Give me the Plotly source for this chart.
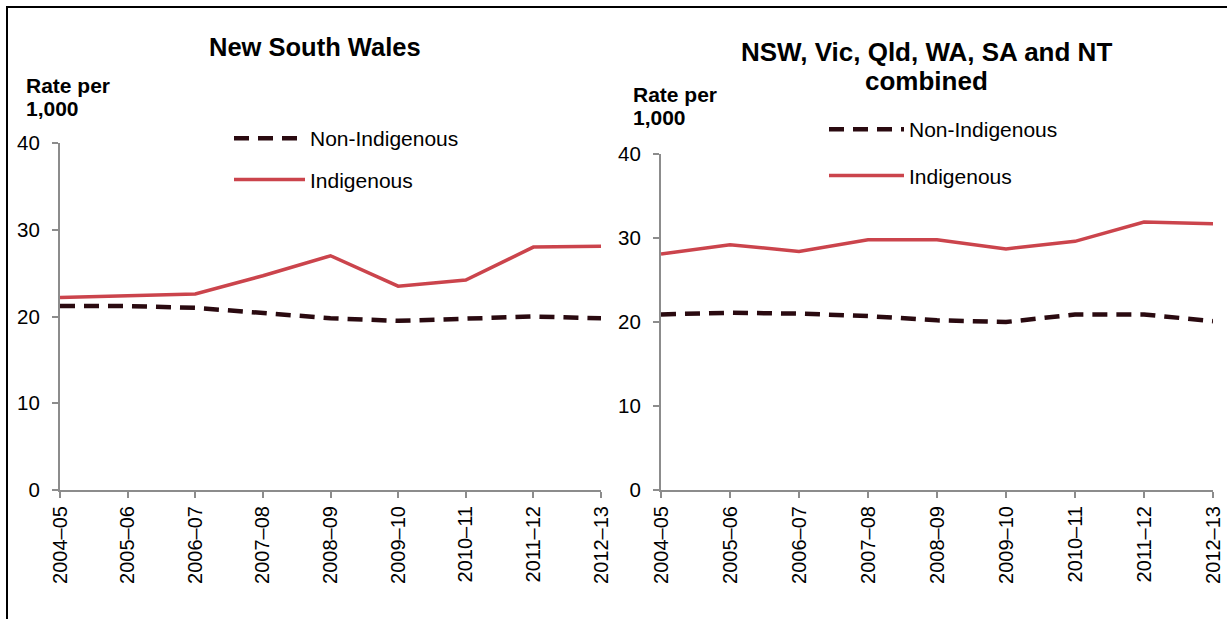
import plotly.graph_objects as go

years = ["2004–05", "2005–06", "2006–07", "2007–08", "2008–09",
         "2009–10", "2010–11", "2011–12", "2012–13"]

nsw_non_indigenous = [21.2, 21.2, 21.0, 20.4, 19.8, 19.5, 19.8, 20.0, 19.8]
nsw_indigenous = [22.2, 22.4, 22.6, 24.7, 27.0, 23.5, 24.2, 28.0, 28.1]

comb_non_indigenous = [20.9, 21.1, 21.0, 20.7, 20.2, 20.0, 20.9, 20.9, 20.1]
comb_indigenous = [28.1, 29.2, 28.4, 29.8, 29.8, 28.7, 29.6, 31.9, 31.7]

title_left = "New South Wales"
title_right = ["NSW, Vic, Qld, WA, SA and NT", "combined"]
ylabel = ["Rate per", "1,000"]

RED = "#CB444C"
DARK = "#2A0A10"
AXIS = "#8C8C8C"
FONT = "Liberation Sans, Arial, sans-serif"
W, H = 1227, 619

fig = go.Figure()

panels = [
    (nsw_non_indigenous, nsw_indigenous, "x", "y", "legend"),
    (comb_non_indigenous, comb_indigenous, "x2", "y2", "legend2"),
]
for i, (non, ind, xa, ya, lg) in enumerate(panels):
    fig.add_trace(go.Scatter(
        x=years, y=non, mode="lines", name="Non-Indigenous",
        line=dict(color=DARK, width=4.5, dash="15px,9px"),
        xaxis=xa, yaxis=ya, legend=lg, legendgroup=f"n{i}",
        hoverinfo="skip"))
    fig.add_trace(go.Scatter(
        x=years, y=ind, mode="lines", name="Indigenous",
        line=dict(color=RED, width=3.5),
        xaxis=xa, yaxis=ya, legend=lg, legendgroup=f"i{i}",
        hoverinfo="skip"))


def px_x(v):
    return v / W


def px_y(v):
    return 1 - v / H


xcommon = dict(
    type="category", range=[0, 8], showgrid=False, zeroline=False,
    showline=True, linecolor=AXIS, linewidth=2, automargin=False,
    ticks="outside", ticklen=6, tickcolor=AXIS, tickwidth=2,
    tickangle=-90, tickfont=dict(family=FONT, size=20, color="black"),
    fixedrange=True,
)
ycommon = dict(
    range=[0, 40], tickvals=[0, 10, 20, 30, 40], showgrid=False, zeroline=False,
    showline=True, linecolor=AXIS, linewidth=2, automargin=False,
    ticks="outside", ticklen=6, tickcolor=AXIS, tickwidth=2,
    ticklabelstandoff=8,
    tickfont=dict(family=FONT, size=20.5, color="black"),
    fixedrange=True,
)


def text(t, x, y, size, anchor="center"):
    return dict(text=f"<b>{t}</b>", xref="paper", yref="paper",
                x=px_x(x), y=px_y(y), xanchor=anchor, yanchor="middle",
                showarrow=False, font=dict(family=FONT, size=size, color="black"))


fig.update_layout(
    width=W, height=H, autosize=False,
    margin=dict(l=0, r=0, t=0, b=0, pad=0),
    paper_bgcolor="white", plot_bgcolor="white",
    font=dict(family=FONT, color="black"),
    showlegend=True,
    xaxis=dict(xcommon, domain=[px_x(60), px_x(601)], anchor="y"),
    yaxis=dict(ycommon, domain=[px_y(490), px_y(143)], anchor="x"),
    xaxis2=dict(xcommon, domain=[px_x(661), px_x(1213)], anchor="y2"),
    yaxis2=dict(ycommon, domain=[px_y(490), px_y(154)], anchor="x2"),
    legend=dict(
        x=px_x(229), y=px_y(118), xanchor="left", yanchor="top",
        bgcolor="rgba(0,0,0,0)", font=dict(family=FONT, size=21, color="black"),
        tracegroupgap=11, itemwidth=71,
    ),
    legend2=dict(
        x=px_x(824), y=px_y(109), xanchor="left", yanchor="top",
        bgcolor="rgba(0,0,0,0)", font=dict(family=FONT, size=21, color="black"),
        tracegroupgap=16, itemwidth=75,
    ),
    shapes=[dict(
        type="rect", xref="paper", yref="paper",
        x0=px_x(7), x1=1.05, y0=-0.05, y1=px_y(7),
        line=dict(color="black", width=2), fillcolor="rgba(0,0,0,0)",
    )],
    annotations=[
        text(title_left, 315, 47, 25.5),
        text(title_right[0], 926, 52, 26),
        text(title_right[1], 926, 81, 26),
        text(ylabel[0], 24, 86, 21, "left"),
        text(ylabel[1], 24, 108, 21, "left"),
        text(ylabel[0], 631, 94, 21, "left"),
        text(ylabel[1], 631, 117, 21, "left"),
    ],
)

fig.write_html(
    "out.html",
    config={"displayModeBar": False, "staticPlot": False},
    post_script="document.body.style.margin='0';document.body.style.overflow='hidden';",
)
